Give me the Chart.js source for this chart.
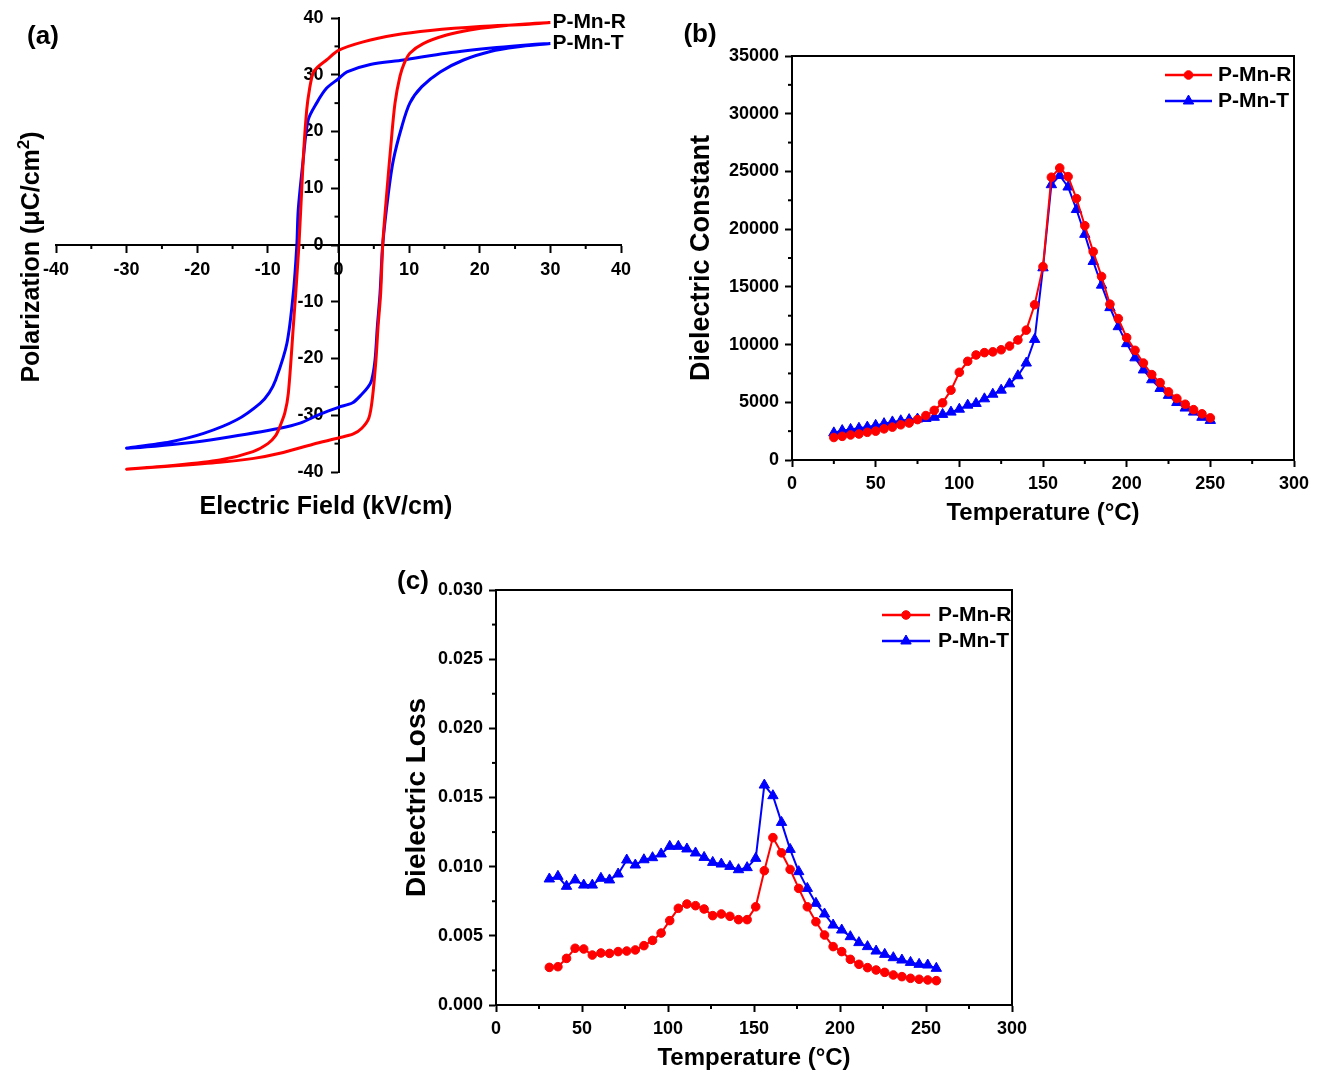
<!DOCTYPE html>
<html><head><meta charset="utf-8">
<script src="https://cdn.jsdelivr.net/npm/chart.js@4.4.1/dist/chart.umd.min.js"></script>
<style>
html,body{margin:0;padding:0;background:#fff;}
#page{position:relative;width:1318px;height:1074px;background:#fff;overflow:hidden;font-family:"Liberation Sans",Arial,sans-serif;}
canvas{position:absolute;}
.lbl{position:absolute;font-weight:bold;font-size:26px;line-height:1;color:#000;transform:translate(-50%,-50%);white-space:nowrap;}
</style></head><body>
<div id="page">
<canvas id="ca" width="660" height="530" style="left:0px;top:0px"></canvas>
<canvas id="cb" width="638" height="530" style="left:680px;top:0px"></canvas>
<canvas id="cc" width="650" height="534" style="left:390px;top:540px"></canvas>
<div class="lbl" style="left:43px;top:35px">(a)</div>
<div class="lbl" style="left:700px;top:33px">(b)</div>
<div class="lbl" style="left:413px;top:580px">(c)</div>
</div>
<script>
// ---------- shared ----------
const seriesNames = ['P-Mn-R', 'P-Mn-T'];
const seriesColors = ['#ff0000', '#0000ff'];

// ---------- panel (a): P-E hysteresis loops ----------
const loopR_E = [30, 27, 20, 13, 8, 3.5, 0, -1.7, -3.0, -3.6, -4.1, -4.5, -5.0, -5.6, -6.4, -7.1, -7.6, -8.3, -8.9, -10, -12.1, -16.8, -23.9, -30,
                 -24, -16.8, -12, -8.3, -3.6, 0, 2.1, 3.3, 4.3, 4.8, 5.3, 5.6, 5.97, 6.26, 6.83, 7.44, 8.0, 8.7, 9.3, 10.1, 12, 15.3, 18.6, 22.4, 26, 30];
const loopR_P = [39.2, 38.9, 38.5, 37.8, 37.0, 35.8, 34.3, 32.6, 31.3, 30.3, 27.5, 23.8, 15.0, 0, -14.4, -26.1, -29.6, -32.0, -33.6, -35.0, -36.4, -37.9, -38.9, -39.5,
                 -39.0, -38.3, -37.6, -36.7, -35.1, -34.0, -33.3, -32.3, -30.5, -27.0, -20.3, -14.4, -8.5, 0, 9.1, 17.9, 25.0, 29.7, 32.0, 33.8, 35.5, 37.0, 37.9, 38.5, 38.9, 39.2];
const loopT_E = [30, 27.1, 22.4, 15.3, 9.2, 4.5, 1.2, 0, -1.7, -3.1, -4.3, -5.0, -5.7, -5.9, -6.4, -7.3, -8.9, -9.8, -11.1, -14.4, -19.1, -23.9, -30,
                 -21.5, -16.8, -8.3, -5.45, -2.6, 0, 2.0, 3.3, 4.2, 4.7, 5.17, 5.5, 5.88, 6.26, 7.06, 7.77, 8.95, 10.1, 11.8, 14.4, 17.7, 21.5, 25.2, 30];
const loopT_P = [35.5, 35.3, 34.8, 33.8, 32.6, 31.8, 30.5, 29.3, 27.6, 25.0, 22.0, 15.0, 6.2, 0, -8.5, -17.3, -23.8, -26.0, -27.9, -30.8, -33.2, -34.7, -35.8,
                 -34.9, -34.1, -32.3, -31.4, -29.8, -28.6, -27.8, -26.3, -25.0, -23.8, -20.3, -14.4, -8.5, 0, 9.1, 15.0, 20.8, 25.0, 27.9, 30.5, 32.6, 34.1, 34.9, 35.5];
const fieldTicks = {min: -40, max: 40, step: 10};
const polTicks = {min: -40, max: 40, step: 10};
const titleA_x = 'Electric Field (kV/cm)';
const titleA_y = ['Polarization (\u03bcC/cm', '2', ')'];

// ---------- panel (b): dielectric constant ----------
const tempB = [25, 30, 35, 40, 45, 50, 55, 60, 65, 70, 75, 80, 85, 90, 95, 100, 105, 110, 115, 120, 125, 130, 135, 140, 145,
               150, 155, 160, 165, 170, 175, 180, 185, 190, 195, 200, 205, 210, 215, 220, 225, 230, 235, 240, 245, 250];
const epsR = [1950, 2050, 2170, 2250, 2400, 2500, 2700, 2850, 3050, 3200, 3500, 3850, 4300, 4950, 6050, 7600, 8550, 9100, 9300, 9370,
              9550, 9870, 10400, 11250, 13450, 16750, 24500, 25300, 24550, 22650, 20300, 18050, 15900, 13500, 12250, 10600, 9500, 8400,
              7400, 6700, 5900, 5330, 4830, 4360, 4000, 3650];
const epsT = [2350, 2550, 2650, 2750, 2850, 3000, 3150, 3300, 3400, 3500, 3550, 3600, 3700, 3950, 4150, 4400, 4750, 4900, 5300, 5700,
              6050, 6600, 7300, 8400, 10450, 16650, 23850, 24650, 23650, 21700, 19550, 17200, 15150, 13200, 11550, 10080, 8850, 7800,
              6950, 6200, 5600, 4980, 4500, 4150, 3700, 3430];
const titleB_x = 'Temperature (\u00b0C)';
const titleB_y = 'Dielectric Constant';

// ---------- panel (c): dielectric loss ----------
const tempC = [31, 36, 41, 46, 51, 56, 61, 66, 71, 76, 81, 86, 91, 96, 101, 106, 111, 116, 121, 126, 131, 136, 141, 146, 151,
               156, 161, 166, 171, 176, 181, 186, 191, 196, 201, 206, 211, 216, 221, 226, 231, 236, 241, 246, 251, 256];
const lossR = [0.00272, 0.00277, 0.00337, 0.0041, 0.00405, 0.00361, 0.00376, 0.00373, 0.00386, 0.0039, 0.00398, 0.00429, 0.00467,
               0.0052, 0.0061, 0.00699, 0.0073, 0.00718, 0.00694, 0.00646, 0.00658, 0.00641, 0.00617, 0.00617, 0.0071, 0.00971,
               0.0121, 0.0110, 0.0098, 0.00843, 0.0071, 0.00602, 0.00506, 0.00422, 0.00386, 0.0033, 0.00294, 0.0027, 0.00253,
               0.00236, 0.00217, 0.00205, 0.00193, 0.00186, 0.00181, 0.00176];
const lossT = [0.00911, 0.0093, 0.00858, 0.00904, 0.00867, 0.00867, 0.00916, 0.00904, 0.00947, 0.01048, 0.01012, 0.0105, 0.01065,
               0.01092, 0.01147, 0.01147, 0.01128, 0.01099, 0.01067, 0.01031, 0.01019, 0.01002, 0.00978, 0.00993, 0.0106, 0.0159,
               0.01513, 0.0132, 0.01125, 0.00964, 0.00843, 0.00735, 0.00658, 0.00578, 0.00542, 0.00494, 0.00451, 0.00422, 0.0039,
               0.00366, 0.00342, 0.00325, 0.00308, 0.00294, 0.00289, 0.00265];
const titleC_x = 'Temperature (\u00b0C)';
const titleC_y = 'Dielectric Loss';

// ---------- Chart.js setup ----------
const FONT = '"Liberation Sans", Arial, sans-serif';
Chart.defaults.font.family = FONT;
Chart.defaults.font.weight = 'bold';
Chart.defaults.color = '#000';

const pairs = (xs, ys) => xs.map((x, i) => ({x: x, y: ys[i]}));

const minorTicks = {
  id: 'minorTicks',
  afterDraw(chart, args, o) {
    const ctx = chart.ctx, ca = chart.chartArea;
    ctx.save();
    ctx.strokeStyle = '#000';
    ctx.lineWidth = 2;
    ['x', 'y'].forEach(id => {
      const sc = chart.scales[id];
      const other = chart.scales[id === 'x' ? 'y' : 'x'];
      const base = o.cross ? other.getPixelForValue(0) : (id === 'x' ? ca.bottom : ca.left);
      const t = sc.ticks;
      for (let i = 0; i < t.length - 1; i++) {
        const p = sc.getPixelForValue((t[i].value + t[i + 1].value) / 2);
        ctx.beginPath();
        if (id === 'x') { ctx.moveTo(p, base); ctx.lineTo(p, base + o.len); }
        else { ctx.moveTo(base, p); ctx.lineTo(base - o.len, p); }
        ctx.stroke();
      }
    });
    ctx.restore();
  }
};

const frame = {
  id: 'frame',
  afterDraw(chart) {
    const ctx = chart.ctx, ca = chart.chartArea;
    ctx.save();
    ctx.strokeStyle = '#000';
    ctx.lineWidth = 2;
    ctx.strokeRect(ca.left, ca.top, ca.right - ca.left, ca.bottom - ca.top);
    ctx.restore();
  }
};

const insideLegend = {
  id: 'insideLegend',
  afterDraw(chart, args, o) {
    const ctx = chart.ctx, ca = chart.chartArea;
    ctx.save();
    chart.data.datasets.forEach((ds, i) => {
      const y = ca.top + o.top + i * o.gap;
      const x0 = ca.right - o.right;
      ctx.strokeStyle = ds.borderColor;
      ctx.lineWidth = 2.5;
      ctx.beginPath(); ctx.moveTo(x0, y); ctx.lineTo(x0 + o.lineLen, y); ctx.stroke();
      ctx.fillStyle = ds.backgroundColor;
      ctx.strokeStyle = ds.borderColor;
      ctx.lineWidth = 1;
      Chart.helpers.drawPoint(ctx, {pointStyle: ds.pointStyle, radius: ds.pointRadius, rotation: 0, borderWidth: 1}, x0 + o.lineLen / 2, y);
      ctx.fillStyle = '#000';
      ctx.font = 'bold ' + o.size + 'px ' + FONT;
      ctx.textBaseline = 'middle';
      ctx.textAlign = 'left';
      ctx.fillText(ds.label, x0 + o.lineLen + o.textGap, y);
    });
    ctx.restore();
  }
};

const endLabels = {
  id: 'endLabels',
  afterDatasetsDraw(chart, args, o) {
    const ctx = chart.ctx;
    ctx.save();
    ctx.fillStyle = '#000';
    ctx.font = 'bold ' + o.size + 'px ' + FONT;
    ctx.textBaseline = 'middle';
    ctx.textAlign = 'left';
    chart.data.datasets.forEach((ds, i) => {
      const meta = chart.getDatasetMeta(i);
      const pt = meta.data[meta.data.length - 1];
      ctx.fillText(ds.label, pt.x + o.dx, pt.y);
    });
    ctx.restore();
  }
};

// titles drawn as text runs (allows a raised superscript run)
const freeTitles = {
  id: 'freeTitles',
  afterDraw(chart, args, o) {
    const ctx = chart.ctx;
    ctx.save();
    ctx.fillStyle = '#000';
    ctx.textAlign = 'left';
    ctx.textBaseline = 'alphabetic';
    (o.items || []).forEach(it => {
      ctx.save();
      ctx.translate(it.x, it.y);
      if (it.rot) ctx.rotate(it.rot);
      let total = 0;
      it.runs.forEach(r => { ctx.font = 'bold ' + r.size + 'px ' + FONT; r.w = ctx.measureText(r.text).width; total += r.w; });
      let cx = -total / 2;
      const base = it.size * 0.36;
      it.runs.forEach(r => {
        ctx.font = 'bold ' + r.size + 'px ' + FONT;
        ctx.fillText(r.text, cx, base + (r.dy || 0));
        cx += r.w;
      });
      ctx.restore();
    });
    ctx.restore();
  }
};

const tickGrid = {drawOnChartArea: false, drawTicks: true, tickLength: 7, tickColor: '#000', tickWidth: 2};
const axisBorder = {color: '#000', width: 2};

// ---------- (a) ----------
new Chart(document.getElementById('ca'), {
  type: 'scatter',
  data: {datasets: [
    {label: seriesNames[0], data: pairs(loopR_E, loopR_P), showLine: true, borderColor: seriesColors[0], backgroundColor: seriesColors[0], borderWidth: 3, pointRadius: 0, tension: 0.3},
    {label: seriesNames[1], data: pairs(loopT_E, loopT_P), showLine: true, borderColor: seriesColors[1], backgroundColor: seriesColors[1], borderWidth: 3, pointRadius: 0, tension: 0.3}
  ]},
  options: {
    responsive: false, animation: false, events: [],
    layout: {padding: {left: 56, right: 39, top: 18, bottom: 58}},
    plugins: {
      legend: {display: false}, tooltip: {enabled: false},
      minorTicks: {len: 4, cross: true},
      endLabels: {size: 21, dx: 2},
      freeTitles: {items: [
        {runs: [{text: titleA_x, size: 25}], x: 326, y: 505, size: 25},
        {runs: [{text: titleA_y[0], size: 25}, {text: titleA_y[1], size: 17, dy: -10}, {text: titleA_y[2], size: 25}],
         x: 30, y: 257, size: 25, rot: -Math.PI / 2}
      ]}
    },
    scales: {
      x: {type: 'linear', min: fieldTicks.min, max: fieldTicks.max, position: {y: 0},
          ticks: {stepSize: fieldTicks.step, font: {size: 18}, padding: 7, color: '#000'},
          grid: tickGrid, border: axisBorder},
      y: {type: 'linear', min: polTicks.min, max: polTicks.max, position: {x: 0},
          ticks: {stepSize: polTicks.step, font: {size: 18}, padding: 5, color: '#000', callback: v => v + '   '},
          grid: tickGrid, border: axisBorder}
    }
  },
  plugins: [minorTicks, endLabels, freeTitles]
});

// ---------- (b) ----------
new Chart(document.getElementById('cb'), {
  type: 'scatter',
  data: {datasets: [
    {label: seriesNames[0], data: pairs(tempB, epsR), showLine: true, borderColor: seriesColors[0], backgroundColor: seriesColors[0], borderWidth: 2, pointStyle: 'circle', pointRadius: 4.3, pointBorderWidth: 1, tension: 0},
    {label: seriesNames[1], data: pairs(tempB, epsT), showLine: true, borderColor: seriesColors[1], backgroundColor: seriesColors[1], borderWidth: 2, pointStyle: 'triangle', pointRadius: 6, pointBorderWidth: 1, tension: 0}
  ]},
  options: {
    responsive: false, animation: false, events: [],
    layout: {padding: {left: 0, right: 24, top: 56, bottom: 0}},
    plugins: {
      legend: {display: false}, tooltip: {enabled: false},
      minorTicks: {len: 4},
      insideLegend: {top: 19, gap: 26, right: 129, lineLen: 47, textGap: 6, size: 21}
    },
    scales: {
      x: {type: 'linear', min: 0, max: 300, position: 'bottom',
          ticks: {stepSize: 50, font: {size: 18}, padding: 6, color: '#000'},
          grid: tickGrid, border: axisBorder,
          title: {display: true, text: titleB_x, font: {size: 24, lineHeight: 1}, padding: {top: 0, bottom: 5}},
          afterFit: s => { s.height = 70; }},
      y: {type: 'linear', min: 0, max: 35000, position: 'left',
          ticks: {stepSize: 5000, font: {size: 18}, padding: 6, color: '#000', callback: v => String(v)},
          grid: tickGrid, border: axisBorder,
          title: {display: true, text: titleB_y, font: {size: 27, lineHeight: 1}, padding: {top: 8, bottom: 0}},
          afterFit: s => { s.width = 112; }}
    }
  },
  plugins: [minorTicks, frame, insideLegend]
});

// ---------- (c) ----------
new Chart(document.getElementById('cc'), {
  type: 'scatter',
  data: {datasets: [
    {label: seriesNames[0], data: pairs(tempC, lossR), showLine: true, borderColor: seriesColors[0], backgroundColor: seriesColors[0], borderWidth: 2, pointStyle: 'circle', pointRadius: 4.3, pointBorderWidth: 1, tension: 0},
    {label: seriesNames[1], data: pairs(tempC, lossT), showLine: true, borderColor: seriesColors[1], backgroundColor: seriesColors[1], borderWidth: 2, pointStyle: 'triangle', pointRadius: 6, pointBorderWidth: 1, tension: 0}
  ]},
  options: {
    responsive: false, animation: false, events: [],
    layout: {padding: {left: 0, right: 28, top: 50, bottom: 0}},
    plugins: {
      legend: {display: false}, tooltip: {enabled: false},
      minorTicks: {len: 4},
      insideLegend: {top: 25, gap: 26, right: 130, lineLen: 48, textGap: 8, size: 21}
    },
    scales: {
      x: {type: 'linear', min: 0, max: 300, position: 'bottom',
          ticks: {stepSize: 50, font: {size: 18}, padding: 6, color: '#000'},
          grid: tickGrid, border: axisBorder,
          title: {display: true, text: titleC_x, font: {size: 24, lineHeight: 1}, padding: {top: 0, bottom: 4}},
          afterFit: s => { s.height = 69; }},
      y: {type: 'linear', min: 0, max: 0.03, position: 'left',
          ticks: {stepSize: 0.005, font: {size: 18}, padding: 6, color: '#000', callback: v => Number(v).toFixed(3)},
          grid: tickGrid, border: axisBorder,
          title: {display: true, text: titleC_y, font: {size: 28, lineHeight: 1}, padding: {top: 13, bottom: 0}},
          afterFit: s => { s.width = 106; }}
    }
  },
  plugins: [minorTicks, frame, insideLegend]
});
</script>
</body></html>
